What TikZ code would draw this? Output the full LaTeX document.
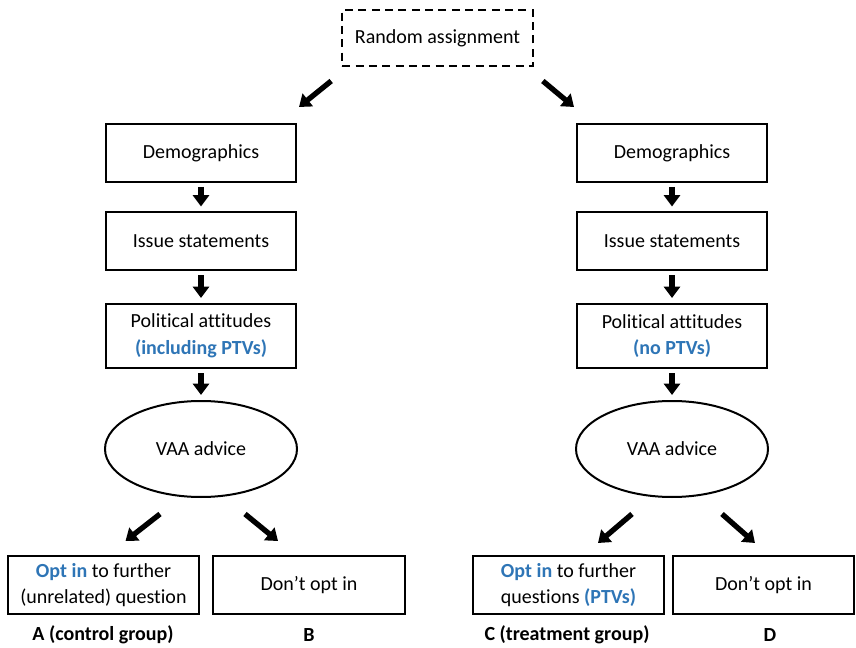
\documentclass[tikz,border=0pt]{standalone}
\usepackage{fontspec}
\setmainfont{Carlito}[Ligatures=NoCommon]
\usepackage{xcolor}
\usepackage{tikz}
\usetikzlibrary{arrows.meta}
\usetikzlibrary{shapes.geometric, calc}
\definecolor{optblue}{RGB}{46,117,182}

\begin{document}
\begin{tikzpicture}[x=0.75pt, y=-0.75pt,
    box/.style={draw, line width=1.5pt, minimum width=142.5pt, minimum height=43.5pt,
      align=center, inner sep=2pt, font=\fontsize{15}{20}\selectfont},
    oval/.style={draw, ellipse, line width=1.5pt, minimum width=144pt, minimum height=72pt,
      inner sep=0pt, font=\fontsize{15}{20}\selectfont},
    grp/.style={font=\fontsize{15}{18}\selectfont\bfseries},
    arr/.style={line width=4pt, -{Triangle[length=8.5pt, width=12pt]}}]
    \useasboundingbox (0,0) rectangle (856,648);

    % Zufall
    \node[box, dash pattern=on 6pt off 4pt, minimum width=143pt, minimum height=42pt] (rand) at (437.5,38) {Random assignment};

    % Linke Spalte
    \node[box] (demL) at (201,153) {Demographics};
    \node[box] (issL) at (201,241.5) {Issue statements};
    \node[box, minimum height=48pt] (polL) at (201,336) {Political attitudes\\\textcolor{optblue}{\bfseries(including PTVs)}};
    \node[oval] (vaaL) at (201,449) {VAA advice};

    % Rechte Spalte
    \node[box] (demR) at (672,153) {Demographics};
    \node[box] (issR) at (672,241.5) {Issue statements};
    \node[box, minimum height=48pt] (polR) at (672,336) {Political attitudes\\\textcolor{optblue}{\bfseries(no PTVs)}};
    \node[oval] (vaaR) at (672,449) {VAA advice};

    % Ergebnisse
    \node[box, minimum width=143pt] (optL) at (103.5,585) {\textcolor{optblue}{\bfseries Opt in} to further\\(unrelated) question};
    \node[box, minimum width=144pt] (noL) at (309,585) {Don’t opt in};
    \node[box, minimum width=143pt] (optR) at (568.5,585) {\textcolor{optblue}{\bfseries Opt in} to further\\questions \textcolor{optblue}{\bfseries(PTVs)}};
    \node[box, minimum width=136pt] (noR) at (763.5,585) {Don’t opt in};

    \node[grp] (grpA) at (103,635) {A (control group)};
    \node[grp] (grpB) at (309,635) {B};
    \node[grp] (grpC) at (567,635) {C (treatment group)};
    \node[grp] (grpD) at (770,635) {D};

    % Pfeile
    \draw[arr] ($(rand.south west)+(-10,14)$) -- ($(demL.north east)+(2,-16)$);
    \draw[arr] ($(rand.south east)+(9,14)$) -- ($(demR.north west)+(-2,-16)$);
    \foreach \a/\b in {demL/issL, issL/polL, polL/vaaL, demR/issR, issR/polR, polR/vaaR}
      \draw[arr] ($(\a.south)+(0,4)$) -- ($(\b.north)+(0,-5)$);
    \draw[arr] ($(vaaL.south)+(-41,16)$) -- ($(optL.north)+(22,-14)$);
    \draw[arr] ($(vaaL.south)+(44,16)$) -- ($(noL.north)+(-31,-14)$);
    \draw[arr] ($(vaaR.south)+(-40,16)$) -- ($(optR.north)+(29.5,-12)$);
    \draw[arr] ($(vaaR.south)+(50,16)$) -- ($(noR.north)+(-8.5,-12)$);
\end{tikzpicture}
\end{document}
